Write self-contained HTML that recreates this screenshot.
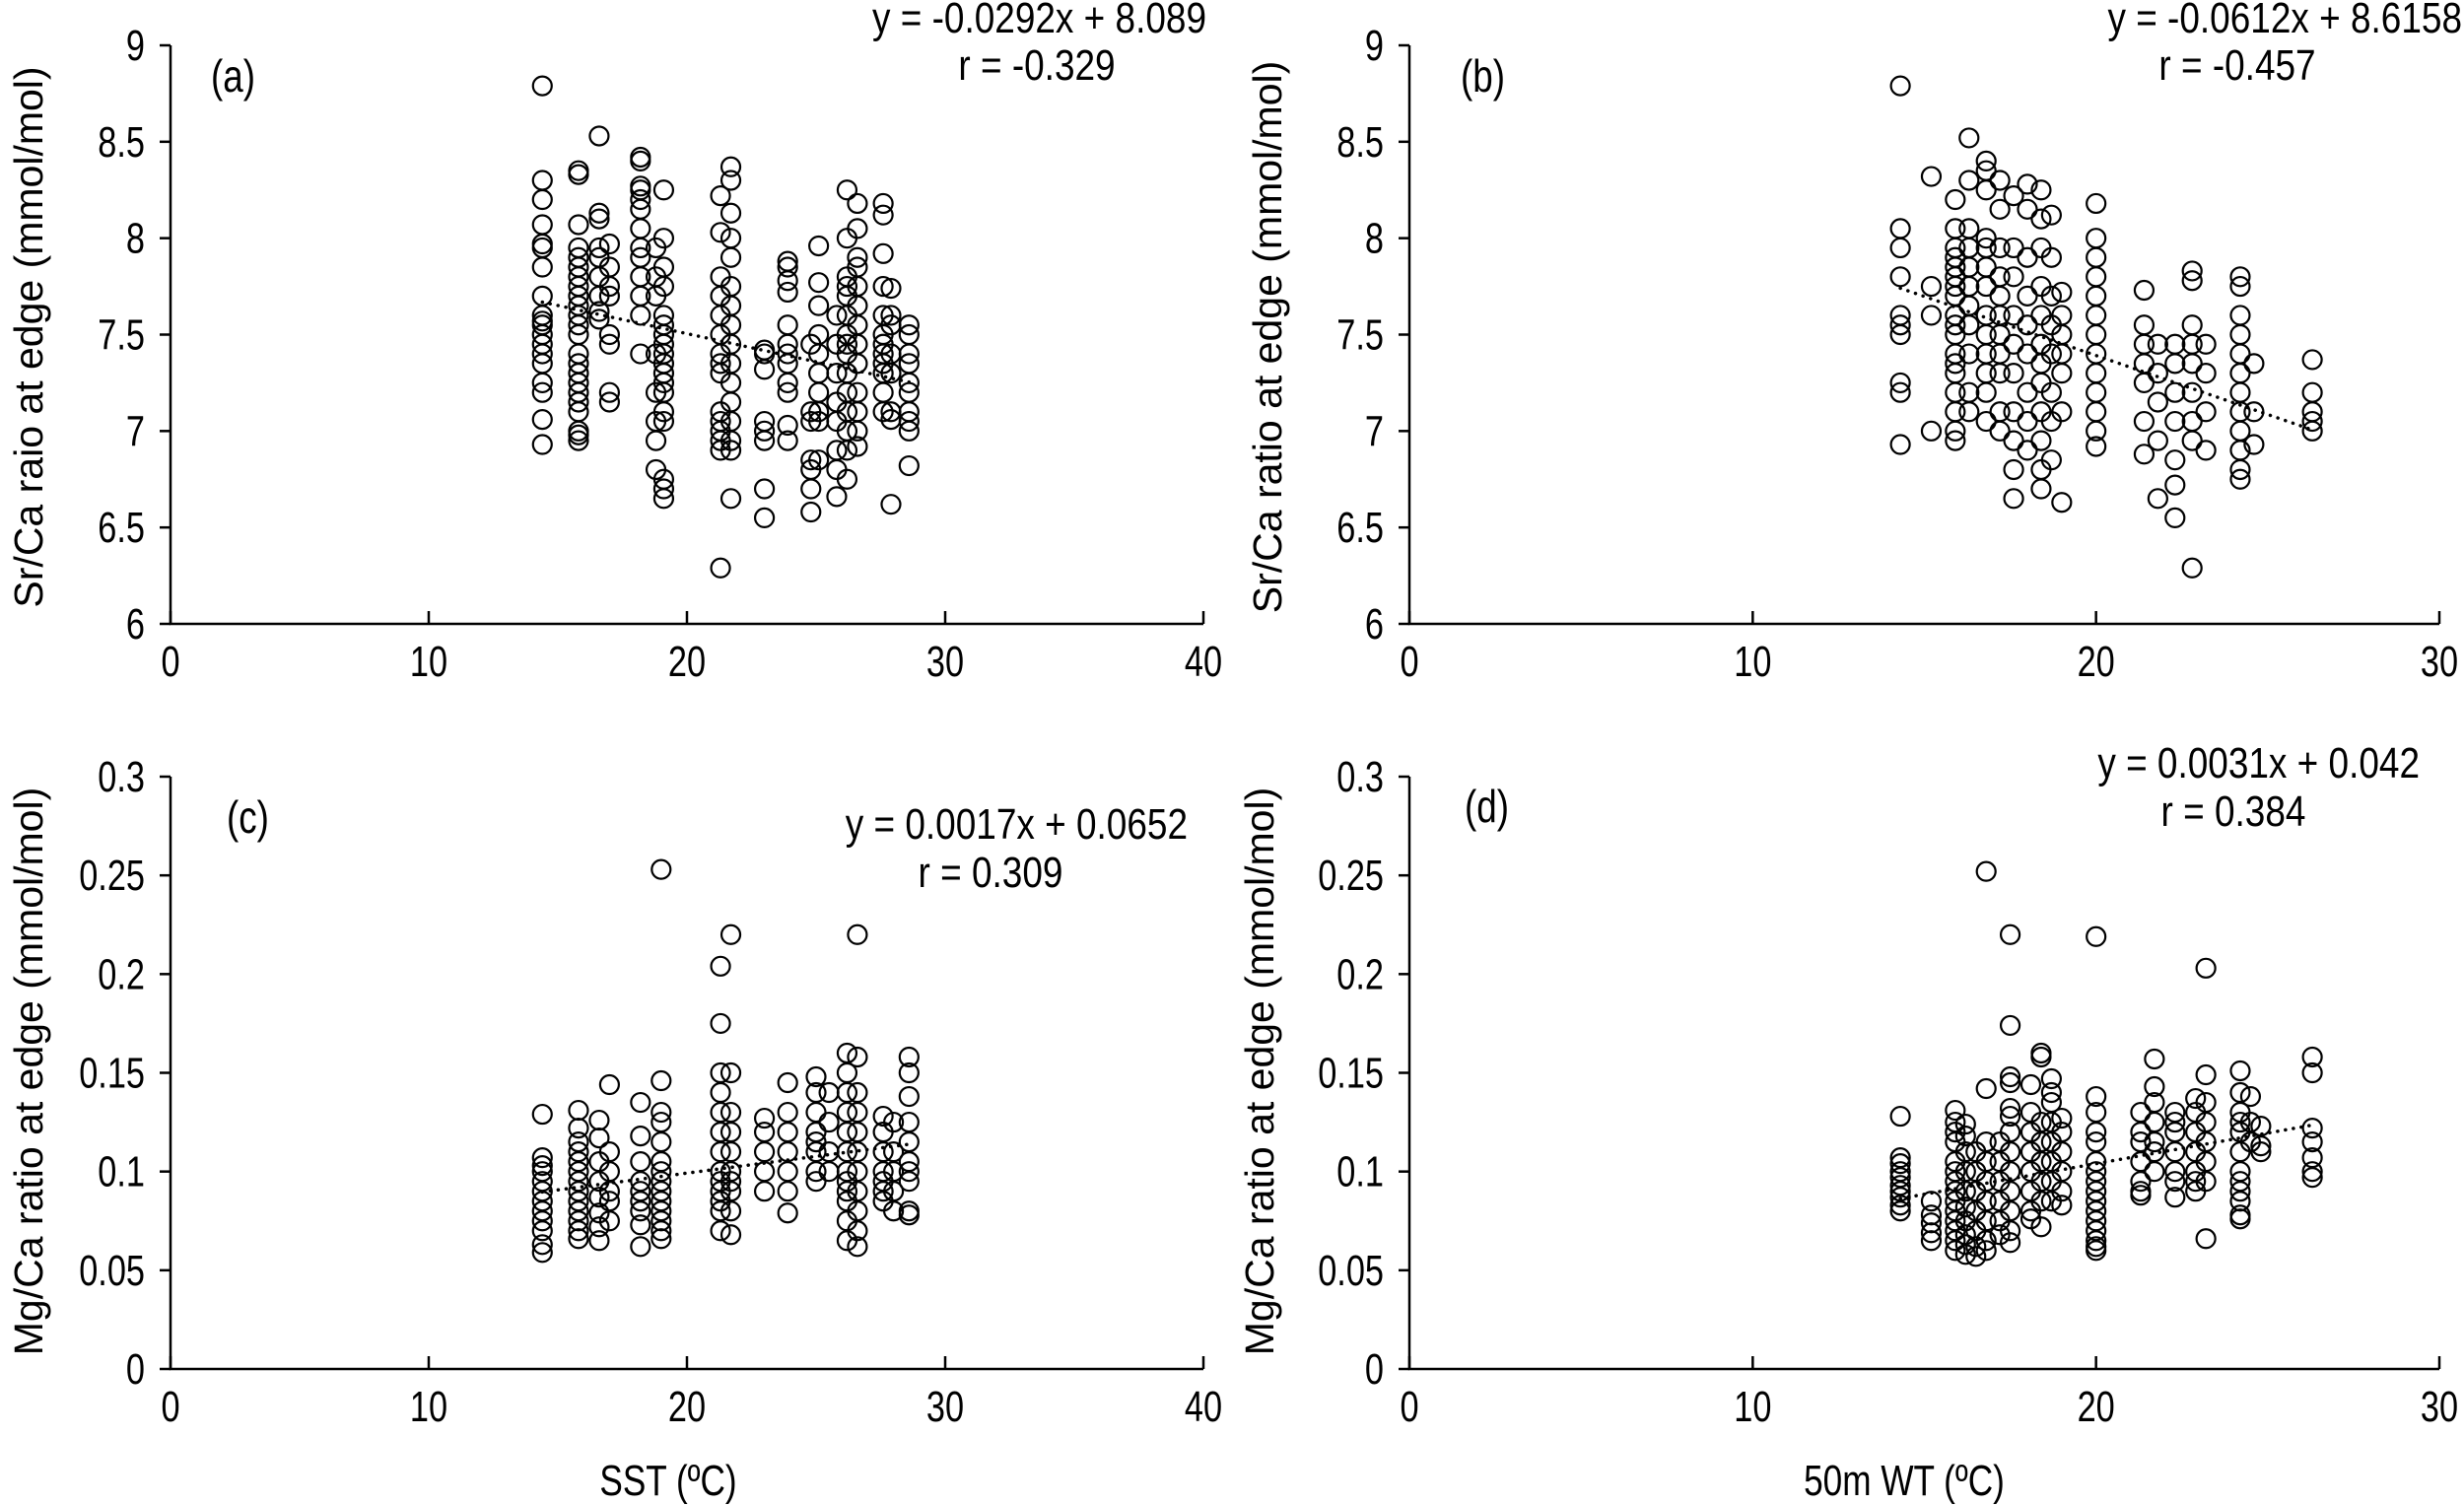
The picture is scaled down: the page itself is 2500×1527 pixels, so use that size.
<!DOCTYPE html>
<html><head><meta charset="utf-8"><style>
html,body{margin:0;padding:0;background:#fff;}
svg{display:block;font-family:"Liberation Sans Narrow","Liberation Sans",sans-serif;}
text{fill:#000;}
</style></head><body>
<svg id="fig" width="2500" height="1527" viewBox="0 0 2500 1527"></svg>
<script>
// ---------- DATA ----------
const xA = [14.4,15.8,16.6,17.0,18.2,18.8,19.1,21.3,21.7,23.0,23.9,24.8,25.1,25.8,26.2,26.6,27.6,27.9,28.6];
const yA = [
[8.79,8.3,8.2,8.07,7.97,7.95,7.85,7.7,7.6,7.57,7.55,7.5,7.45,7.4,7.35,7.25,7.2,7.06,6.93],
[8.33,8.35,8.07,7.95,7.9,7.85,7.8,7.75,7.7,7.65,7.6,7.55,7.5,7.4,7.35,7.3,7.25,7.2,7.15,7.1,7.0,6.98,6.95],
[8.53,8.13,8.1,7.95,7.9,7.8,7.7,7.62,7.58],
[7.97,7.85,7.75,7.7,7.5,7.45,7.2,7.15],
[8.42,8.4,8.27,8.25,8.2,8.15,8.05,7.95,7.9,7.8,7.7,7.6,7.4],
[7.95,7.8,7.7,7.4,7.2,7.05,6.95,6.8],
[8.25,8.0,7.85,7.75,7.6,7.55,7.5,7.45,7.4,7.35,7.3,7.25,7.2,7.1,7.05,6.75,6.7,6.65],
[8.22,8.03,7.8,7.7,7.6,7.5,7.4,7.35,7.3,7.1,7.05,7.0,6.95,6.9,6.29],
[8.37,8.3,8.13,8.0,7.9,7.75,7.65,7.55,7.45,7.35,7.25,7.15,7.05,6.95,6.9,6.65],
[7.42,7.4,7.32,7.05,7.0,6.95,6.7,6.55],
[7.88,7.85,7.78,7.72,7.55,7.45,7.4,7.35,7.25,7.2,7.03,6.95],
[7.45,7.1,7.05,6.85,6.8,6.7,6.58],
[7.96,7.77,7.65,7.5,7.4,7.3,7.2,7.1,7.05,6.85],
[7.6,7.45,7.3,7.15,7.05,6.9,6.8,6.66],
[8.25,8.0,7.8,7.75,7.7,7.6,7.5,7.45,7.4,7.3,7.2,7.1,7.0,6.9,6.75],
[8.18,8.05,7.9,7.85,7.75,7.65,7.55,7.45,7.35,7.2,7.1,7.0,6.92],
[8.18,8.12,7.92,7.75,7.6,7.5,7.45,7.4,7.35,7.3,7.2,7.1],
[7.74,7.6,7.55,7.4,7.3,7.1,7.06,6.62],
[7.55,7.5,7.4,7.35,7.25,7.2,7.1,7.05,7.0,6.82]];
const xB = [14.3,15.2,15.9,16.3,16.8,17.2,17.6,18.0,18.4,18.7,19.0,20.0,21.4,21.8,22.3,22.8,23.2,24.2,24.6,26.3];
const yB = [
[8.79,8.05,7.95,7.8,7.6,7.55,7.5,7.25,7.2,6.93],
[8.32,7.75,7.6,7.0],
[8.2,8.05,7.95,7.9,7.85,7.8,7.75,7.7,7.6,7.55,7.5,7.4,7.35,7.3,7.2,7.1,7.0,6.95],
[8.52,8.3,8.05,7.95,7.85,7.75,7.65,7.55,7.4,7.2,7.1],
[8.4,8.35,8.25,8.0,7.95,7.85,7.75,7.6,7.5,7.4,7.3,7.2,7.05],
[8.3,8.15,7.95,7.8,7.7,7.6,7.5,7.4,7.3,7.1,7.0],
[8.22,7.95,7.8,7.6,7.45,7.3,7.1,6.95,6.8,6.65],
[8.28,8.15,7.9,7.7,7.55,7.4,7.2,7.05,6.9],
[8.25,8.1,7.95,7.75,7.6,7.45,7.35,7.25,7.1,6.95,6.8,6.7],
[8.12,7.9,7.7,7.55,7.4,7.2,7.05,6.85],
[7.72,7.6,7.5,7.4,7.3,7.1,6.63],
[8.18,8.0,7.9,7.8,7.7,7.6,7.5,7.4,7.3,7.2,7.1,7.0,6.92],
[7.73,7.55,7.45,7.35,7.25,7.05,6.88],
[7.45,7.3,7.15,6.95,6.65],
[7.45,7.35,7.2,7.05,6.85,6.72,6.55],
[7.83,7.78,7.55,7.45,7.35,7.2,7.05,6.95,6.29],
[7.45,7.3,7.1,6.9],
[7.8,7.75,7.6,7.5,7.4,7.3,7.2,7.1,7.0,6.9,6.8,6.75],
[7.35,7.1,6.93],
[7.37,7.2,7.1,7.05,7.0]];
const xC = [14.4,15.8,16.6,17.0,18.2,19.0,21.3,21.7,23.0,23.9,25.0,25.5,26.2,26.6,27.6,28.0,28.6];
const yC = [
[0.129,0.107,0.103,0.1,0.095,0.09,0.085,0.08,0.075,0.07,0.063,0.059],
[0.131,0.122,0.115,0.11,0.105,0.1,0.095,0.09,0.085,0.08,0.075,0.07,0.066],
[0.126,0.117,0.105,0.095,0.087,0.079,0.072,0.065],
[0.144,0.11,0.1,0.09,0.085,0.075],
[0.135,0.118,0.105,0.095,0.09,0.085,0.08,0.073,0.062],
[0.253,0.146,0.13,0.125,0.115,0.105,0.1,0.095,0.09,0.085,0.08,0.075,0.07,0.066],
[0.204,0.175,0.15,0.14,0.13,0.12,0.11,0.1,0.095,0.09,0.085,0.08,0.07],
[0.22,0.15,0.13,0.12,0.11,0.1,0.095,0.09,0.08,0.068],
[0.127,0.12,0.11,0.1,0.09],
[0.145,0.13,0.12,0.11,0.1,0.09,0.079],
[0.148,0.14,0.13,0.12,0.115,0.11,0.1,0.095],
[0.14,0.125,0.11,0.1],
[0.16,0.15,0.14,0.13,0.12,0.11,0.1,0.095,0.09,0.085,0.075,0.065],
[0.22,0.158,0.14,0.13,0.12,0.11,0.1,0.09,0.08,0.07,0.062],
[0.128,0.12,0.11,0.1,0.095,0.09,0.085],
[0.125,0.11,0.1,0.09,0.08],
[0.158,0.15,0.138,0.125,0.115,0.105,0.1,0.095,0.08,0.078]];
const xD = [14.3,15.2,15.9,16.2,16.5,16.8,17.2,17.5,18.1,18.4,18.7,19.0,20.0,21.3,21.7,22.3,22.9,23.2,24.2,24.5,24.8,26.3];
const yD = [
[0.128,0.107,0.104,0.1,0.097,0.093,0.09,0.087,0.083,0.08],
[0.085,0.078,0.074,0.069,0.065],
[0.131,0.125,0.12,0.115,0.105,0.1,0.095,0.09,0.085,0.08,0.075,0.07,0.065,0.06],
[0.124,0.118,0.11,0.1,0.09,0.082,0.075,0.068,0.063,0.058],
[0.11,0.1,0.09,0.08,0.07,0.062,0.057],
[0.252,0.142,0.115,0.105,0.095,0.085,0.075,0.065,0.06],
[0.115,0.105,0.095,0.085,0.075,0.068],
[0.22,0.174,0.148,0.145,0.132,0.128,0.12,0.11,0.1,0.09,0.08,0.07,0.064],
[0.144,0.13,0.12,0.11,0.1,0.09,0.08,0.076],
[0.16,0.158,0.125,0.115,0.105,0.095,0.085,0.072],
[0.147,0.14,0.135,0.125,0.115,0.105,0.095,0.085],
[0.127,0.12,0.11,0.1,0.09,0.083],
[0.219,0.138,0.13,0.12,0.115,0.105,0.1,0.095,0.09,0.085,0.08,0.075,0.07,0.065,0.062,0.06],
[0.13,0.12,0.115,0.105,0.095,0.09,0.088],
[0.157,0.143,0.135,0.125,0.115,0.11,0.1],
[0.13,0.125,0.12,0.11,0.1,0.095,0.087],
[0.137,0.13,0.12,0.11,0.1,0.095,0.09],
[0.203,0.149,0.135,0.125,0.115,0.105,0.095,0.066],
[0.151,0.14,0.13,0.125,0.12,0.11,0.1,0.095,0.09,0.085,0.078,0.076],
[0.138,0.125,0.115],
[0.123,0.113,0.11],
[0.158,0.15,0.122,0.115,0.107,0.1,0.097]];
const fitA = [-0.0292, 8.089], fitB = [-0.0612, 8.6158], fitC = [0.0017, 0.0652], fitD = [0.0031, 0.042];
const ticksX40 = [0,10,20,30,40], ticksX30 = [0,10,20,30];
const ticksYSr = ["6","6.5","7","7.5","8","8.5","9"];
const ticksYMg = ["0","0.05","0.1","0.15","0.2","0.25","0.3"];

// ---------- DRAW ----------
const NS = "http://www.w3.org/2000/svg";
const svg = document.getElementById('fig');
function mk(tag, attrs, parent, txt){
  const e = document.createElementNS(NS, tag);
  for (const k in attrs) e.setAttribute(k, attrs[k]);
  if (txt !== undefined) e.textContent = txt;
  (parent||svg).appendChild(e); return e;
}
// condensed text: placed via transform with horizontal squeeze
function ctext(x, y, anchor, size, sx, parent, txt){
  return mk('text', {x:0, y:0, 'text-anchor':anchor, 'font-size':size, transform:`translate(${x},${y}) scale(${sx},1)`}, parent, txt);
}
function panel(p){
  const g = mk('g', {});
  
  
  const sx = v => p.x0 + (v - p.xmin)/(p.xmax - p.xmin)*(p.x1 - p.x0);
  const sy = v => p.y0 - (v - p.ymin)/(p.ymax - p.ymin)*(p.y0 - p.y1);
  const ax = mk('path', {d:`M${p.x0},${p.y1}V${p.y0}H${p.x1}`, fill:'none', stroke:'#000', 'stroke-width':2.5}, g);
  
  
  p.yt.forEach(t => {
    const y = sy(parseFloat(t));
    mk('line', {x1:p.x0-11, x2:p.x0, y1:y, y2:y, stroke:'#000', 'stroke-width':2.5}, g);
    const tl = ctext(p.x0-26, y+15, 'end', 44, 0.78, g, t);
    
    
  });
  p.xt.forEach(t => {
    const x = sx(t);
    mk('line', {x1:x, x2:x, y1:p.y0, y2:p.y0-13, stroke:'#000', 'stroke-width':2.5}, g);
    const tl = ctext(x, p.y0+53, 'middle', 44, 0.78, g, String(t));
    
    
  });
  const tr = mk('line', {x1:sx(p.fx[0]), y1:sy(p.fit[0]*p.fx[0]+p.fit[1]), x2:sx(p.fx[1]), y2:sy(p.fit[0]*p.fx[1]+p.fit[1]), stroke:'#000', 'stroke-width':3.5, 'stroke-dasharray':'0.1 8', 'stroke-linecap':'round'}, g);
  
  
  p.xs.forEach((xv, i) => {
    p.ys[i].forEach(yv => {
      const c = mk('circle', {cx:sx(xv), cy:sy(yv), r:9.5, fill:'none', stroke:'#000', 'stroke-width':2.2}, g);
      
      
    });
  });
  const lb = ctext(p.lx, p.ly, 'start', 46, 0.8, g, '(' + p.id + ')');
  
  
  const eq = ctext(p.ex, p.ey, 'end', 44, 0.84, g, p.eq);
  
  
  const rr = ctext(p.rx, p.ry, 'middle', 44, 0.84, g, p.r);
  
  
  const yt = mk('text', {x:0, y:0, 'text-anchor':'middle', 'font-size':41, transform:`translate(${p.ytx},${p.yty}) rotate(-90)`, style:'font-family:"Liberation Sans",sans-serif'}, g, p.ytitle);
  
  
}
panel({id:'a', x0:173, x1:1221, y0:633, y1:46, xmin:0, xmax:40, ymin:6, ymax:9, xt:ticksX40, yt:ticksYSr, xs:xA, ys:yA, fit:fitA, fx:[14.4,28.6],
  lx:214, ly:93, eq:'y = -0.0292x + 8.089', ex:1224, ey:33, r:'r = -0.329', rx:1052, ry:81, ytitle:'Sr/Ca raio at edge (mmol/mol)', ytx:43, yty:342});
panel({id:'b', x0:1430, x1:2475, y0:633, y1:46, xmin:0, xmax:30, ymin:6, ymax:9, xt:ticksX30, yt:ticksYSr, xs:xB, ys:yB, fit:fitB, fx:[14.3,26.3],
  lx:1482, ly:93, eq:'y = -0.0612x + 8.6158', ex:2498, ey:33, r:'r = -0.457', rx:2270, ry:81, ytitle:'Sr/Ca ratio at edge (mmol/mol)', ytx:1300, yty:342});
panel({id:'c', x0:173, x1:1221, y0:1389, y1:788, xmin:0, xmax:40, ymin:0, ymax:0.3, xt:ticksX40, yt:ticksYMg, xs:xC, ys:yC, fit:fitC, fx:[14.4,28.6],
  lx:230, ly:845, eq:'y = 0.0017x + 0.0652', ex:1205, ey:851, r:'r = 0.309', rx:1005, ry:900, ytitle:'Mg/Ca ratio at edge (mmol/mol)', ytx:43, yty:1087});
panel({id:'d', x0:1430, x1:2475, y0:1389, y1:788, xmin:0, xmax:30, ymin:0, ymax:0.3, xt:ticksX30, yt:ticksYMg, xs:xD, ys:yD, fit:fitD, fx:[14.3,26.3],
  lx:1486, ly:834, eq:'y = 0.0031x + 0.042', ex:2455, ey:789, r:'r = 0.384', rx:2266, ry:838, ytitle:'Mg/Ca ratio at edge (mmol/mol)', ytx:1292, yty:1087});
const xt1 = ctext(678, 1517, 'middle', 44, 0.8, svg, 'SST (ºC)');


const xt2 = ctext(1932, 1517, 'middle', 44, 0.8, svg, '50m WT (ºC)');


</script>
</body></html>
